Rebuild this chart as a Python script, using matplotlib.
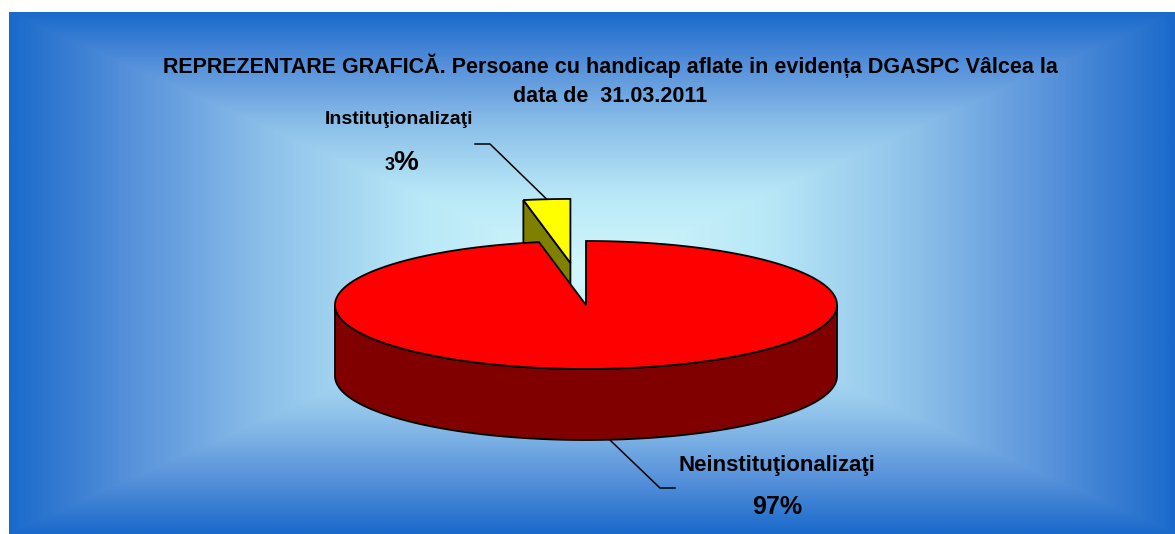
import numpy as np
import matplotlib.pyplot as plt
from matplotlib.colors import LinearSegmentedColormap
from matplotlib.patches import Polygon

# data
labels = ["Neinstituţionalizaţi", "Instituţionalizaţi"]
values = [97, 3]
pct_labels = ["97%", "3%"]
title_lines = ["REPREZENTARE GRAFICĂ. Persoane cu handicap aflate in evidența DGASPC Vâlcea la",
               "data de  31.03.2011"]

# styles / layout
top_colors = ["#ff0000", "#ffff00"]
side_colors = ["#800000", "#808000"]
explode = [0.0, 0.66]
label_xy = [(777, 466), (399, 120)]
label_size = [16, 14]
pct_xy = [(777, 507), (398, 170)]
elbow_xy = [(660, 488), (490, 144)]
end_xy = [(675, 488), (475, 144)]

W, H = 1175, 534
plt.rcParams['font.family'] = ['Liberation Sans', 'DejaVu Sans']
fig = plt.figure(figsize=(W / 100, H / 100), dpi=100, facecolor='white')
ax = fig.add_axes([0, 0, 1, 1])
ax.axis('off')

# background: rectangular gradient, light in the middle, blue at the edges
x0, x1, y0, y1 = 9, W, 12, H
gcx, gcy = 592, 272
xx, yy = np.meshgrid(np.linspace(x0, x1, 700), np.linspace(y0, y1, 320))
hx = np.where(xx < gcx, gcx - x0, x1 - gcx)
hy = np.where(yy < gcy, gcy - y0, y1 - gcy)
t = np.maximum(np.abs(xx - gcx) / hx, np.abs(yy - gcy) / hy)
bg = LinearSegmentedColormap.from_list('bg', [(0, '#d4f7fc'), (0.3, '#b8e8f7'),
                                              (0.55, '#8fc2ea'), (0.8, '#5590da'),
                                              (1, '#1a6acb')])
ax.imshow(t, extent=[x0, x1, y1, y0], cmap=bg, vmin=0, vmax=1,
          aspect='auto', interpolation='bilinear', zorder=0)
ax.set_xlim(0, W)
ax.set_ylim(H, 0)

# 3d pie, clockwise from 12 o'clock
cx, cy, rx, ry, depth = 586, 305, 251, 64, 71
fracs = np.array(values, dtype=float) / sum(values)
bounds = 90 - 360 * np.concatenate([[0], np.cumsum(fracs)])


def arc(a, b, ox, oy, down=0, n=120):
    th = np.radians(np.linspace(a, b, n))
    return np.column_stack([cx + ox + rx * np.cos(th), cy + oy - ry * np.sin(th) + down])


slices = []
for i in range(len(values)):
    a, b = sorted((bounds[i], bounds[i + 1]))
    mid = np.radians((a + b) / 2)
    ox = explode[i] * rx * np.cos(mid)
    oy = -explode[i] * ry * np.sin(mid)
    slices.append((np.sin(mid), i, a, b, ox, oy))

# back slices first
lw = 1.3
for s, i, a, b, ox, oy in sorted(slices, reverse=True):
    c = (cx + ox, cy + oy)
    # cut faces
    for ang, vis in ((a, np.cos(np.radians(a)) > 1e-6), (b, np.cos(np.radians(b)) < -1e-6)):
        if vis:
            p = arc(ang, ang, ox, oy, n=1)[0]
            face = [c, p, (p[0], p[1] + depth), (c[0], c[1] + depth)]
            ax.add_patch(Polygon(face, closed=True, fc=side_colors[i], ec='black', lw=lw, zorder=2))
    # outer wall (front half only)
    for lo, hi in ((-540, -360), (-180, 0), (180, 360), (540, 720)):
        wa, wb = max(a, lo), min(b, hi)
        if wb > wa:
            top = arc(wa, wb, ox, oy)
            bot = arc(wb, wa, ox, oy, down=depth)
            ax.add_patch(Polygon(np.vstack([top, bot]), closed=True,
                                 fc=side_colors[i], ec='black', lw=lw, zorder=2))
    # top face
    pts = np.vstack([[c], arc(a, b, ox, oy, n=300)])
    ax.add_patch(Polygon(pts, closed=True, fc=top_colors[i], ec='black', lw=lw, zorder=2))

# labels with leader lines
for s, i, a, b, ox, oy in slices:
    m = (a + b) / 2
    anchor = arc(m, m, ox, oy, down=depth if s < 0 else 0, n=1)[0]
    ax.plot([anchor[0], elbow_xy[i][0], end_xy[i][0]],
            [anchor[1], elbow_xy[i][1], end_xy[i][1]], color='black', lw=1.1, zorder=3)
    ax.text(*label_xy[i], labels[i], ha='center', va='center', fontsize=label_size[i],
            fontweight='bold', zorder=4)

ax.text(*pct_xy[0], pct_labels[0], ha='center', va='center', fontsize=18, fontweight='bold', zorder=4)
num, sign = pct_labels[1][:-1], pct_labels[1][-1]
ax.text(pct_xy[1][0] - 3, pct_xy[1][1], num, ha='right', va='baseline', fontsize=13,
        fontweight='bold', zorder=4)
ax.text(pct_xy[1][0] - 5, pct_xy[1][1], sign, ha='left', va='baseline', fontsize=20,
        fontweight='bold', zorder=4)

for k, line in enumerate(title_lines):
    ax.text(610, 66 + 31 * k, line, ha='center', va='center', fontsize=15.5,
            fontweight='bold', zorder=4)

fig.savefig('out.png', dpi=100, facecolor='white')
